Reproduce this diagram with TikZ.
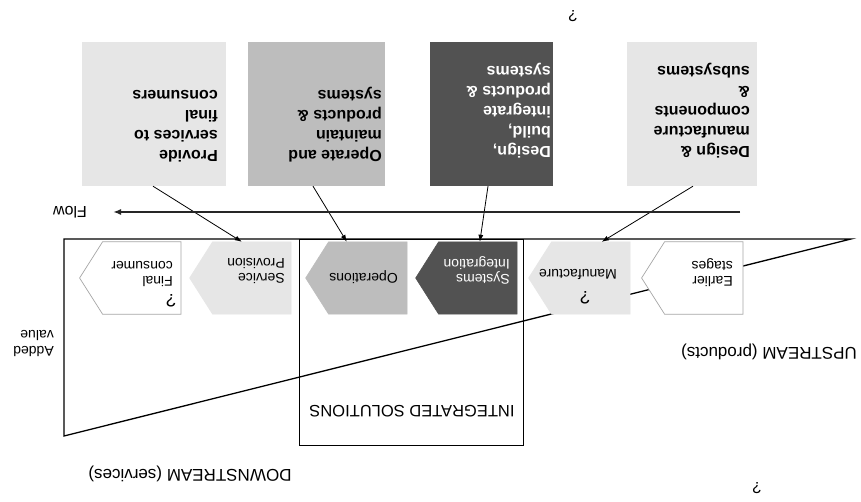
\documentclass[tikz,border=0pt]{standalone}
\usepackage{fontspec}
\setmainfont{Liberation Sans}
\usetikzlibrary{arrows.meta}
\definecolor{lightg}{HTML}{E6E6E6}
\definecolor{midg}{HTML}{BDBDBD}
\definecolor{darkg}{HTML}{525252}
\newcommand\mychev[2]{\filldraw[#2] (#1.south west) -- (#1.south east) -- ([xshift=23pt]#1.east) -- (#1.north east) -- (#1.north west) -- cycle;}
\begin{document}
\begin{tikzpicture}[x=1pt,y=1pt,
  boxnode/.style={rectangle, inner sep=0, minimum width=#1, minimum height=144, draw=none},
  btext/.style={inner sep=0, align=left, anchor=north west, font=\fontsize{16}{20}\selectfont\bfseries},
  chevbody/.style={rectangle, inner sep=0, minimum width=78, minimum height=72, anchor=west},
  ctext/.style={inner sep=0, align=left, font=\fontsize{14}{15}\selectfont},
  qmark/.style={inner sep=0, font=\fontsize{18}{20}\selectfont},
  lbl/.style={inner sep=0, font=\fontsize{16.5}{19}\selectfont},
  conn/.style={-{Latex[length=7pt,width=5pt]}, line width=0.8pt},
  whitechev/.style={fill=white, draw=gray!70, line width=0.7pt},
  fillchev/.style={fill=#1, draw=#1, line width=0.5pt}]
\useasboundingbox (0,0) rectangle (861,502);
\fill[white] (0,0) rectangle (861,502);
\begin{scope}[shift={(861,502)}, rotate=180, transform shape]
  % value triangle
  \coordinate (tr) at (10,239);
  \coordinate (tl) at (797,239);
  \coordinate (bl) at (797,436);
  \draw[line width=1.3pt, line join=miter] (tr) -- (tl) -- (bl) -- cycle;
  % integrated solutions box
  \node[draw, line width=0.9pt, minimum width=224, minimum height=206, inner sep=0] (isol) at (450,342) {};
  \node[lbl] (isolt) at (449,411) {INTEGRATED SOLUTIONS};
  % chevrons
  \node[chevbody] (earl) at (118,278) {};
  \node[chevbody] (manu) at (231,278) {};
  \node[chevbody] (sysi) at (344,278) {};
  \node[chevbody] (oper) at (454,278) {};
  \node[chevbody] (serv) at (570,278) {};
  \node[chevbody] (finc) at (680,278) {};
  \mychev{earl}{whitechev}
  \mychev{manu}{fillchev=lightg}
  \mychev{sysi}{fillchev=darkg}
  \mychev{oper}{fillchev=midg}
  \mychev{serv}{fillchev=lightg}
  \mychev{finc}{whitechev}
  \node[ctext, anchor=north west] (earlt) at (128,287) {Earlier\\stages};
  \node[qmark] (manuq) at (276,298) {?};
  \node[ctext, anchor=north west] (manut) at (244,280) {Manufacture};
  \node[ctext, anchor=north west, text=white] (sysit) at (351,284) {Systems\\Integration};
  \node[ctext, anchor=west] (opert) at (463,277) {Operations};
  \node[ctext, anchor=north west] (servt) at (576,284) {Service\\Provision};
  \node[qmark] (fincq) at (690,301) {?};
  \node[ctext, anchor=north west] (finct) at (688,287) {Final\\consumer};
  % activity boxes
  \node[boxnode=130, fill=lightg] (dm) at (169,114) {};
  \node[boxnode=123, fill=darkg] (db) at (369.5,114) {};
  \node[boxnode=137, fill=midg] (om) at (544.5,114) {};
  \node[boxnode=144, fill=lightg] (ps) at (707,114) {};
  \node[btext] (dmt) at (111,158) {Design \&\\manufacture\\components\\\&\\subsystems};
  \node[btext, text=white] (dbt) at (310,158) {Design,\\build,\\integrate\\products \&\\systems};
  \node[btext] (omt) at (479,162) {Operate and\\maintain\\products \&\\systems};
  \node[btext] (pst) at (643,162) {Provide\\services to\\final\\consumers};
  % connectors
  \draw[conn] ([xshift=-1pt]dm.north) -- ([xshift=-11pt]manu.south);
  \draw[conn] ([xshift=3.5pt]db.north) -- ([xshift=-2pt]sysi.south);
  \draw[conn] ([xshift=3.5pt]om.north) -- ([xshift=21pt]oper.south);
  \draw[conn] ([xshift=1pt]ps.north) -- ([xshift=10pt]serv.south);
  % flow
  \node[lbl, font=\fontsize{16}{19}\selectfont] (flowt) at (791,212) {Flow};
  \coordinate (fs) at (121,212);
  \coordinate (fe) at (748,212);
  \draw[-{Latex[length=8pt,width=6pt]}, line width=1.8pt, black!85] (fs) -- (fe);
  % labels
  \node[lbl, font=\fontsize{17}{19}\selectfont] (up) at (92,352) {UPSTREAM (products)};
  \node[lbl, font=\fontsize{17}{19}\selectfont] (down) at (671,474) {DOWNSTREAM (services)};
  \node[ctext, anchor=north west, font=\fontsize{14}{16}\selectfont] (addv) at (807,357) {Added\\value};
  \node[qmark, font=\fontsize{16}{18}\selectfont] (q1) at (288,16) {?};
  \node[qmark, font=\fontsize{16}{18}\selectfont] (q2) at (104,488) {?};
\end{scope}
\end{tikzpicture}
\end{document}
